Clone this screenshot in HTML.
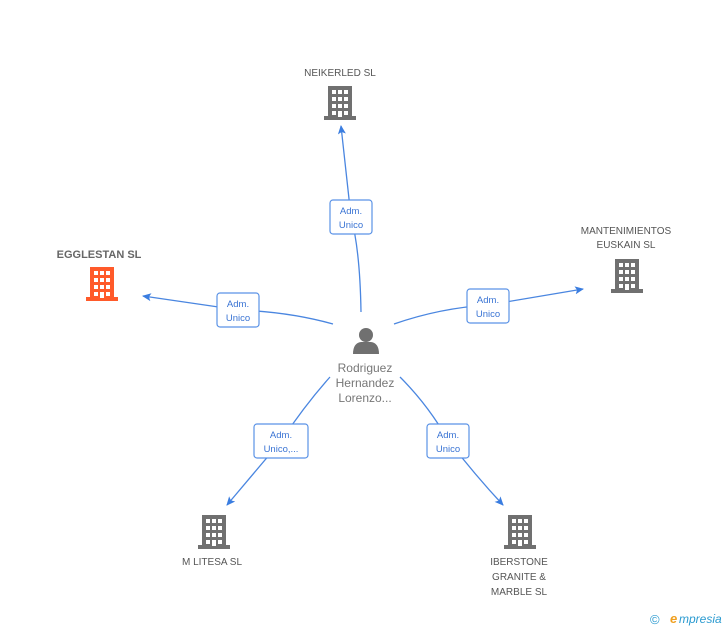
<!DOCTYPE html>
<html><head><meta charset="utf-8"><style>
body{margin:0;background:#fff;width:728px;height:630px;overflow:hidden;font-family:"Liberation Sans",sans-serif}
svg{position:absolute;left:0;top:0}
</style></head><body>
<svg width="728" height="630" xmlns="http://www.w3.org/2000/svg" font-family="Liberation Sans, sans-serif">
<defs>
<symbol id="b" viewBox="0 0 32 34">
<rect x="4" y="0" width="24" height="31" fill="currentColor"/>
<rect x="0" y="30" width="32" height="4" fill="currentColor"/>
<g fill="#fff">
<rect x="8" y="4" width="4" height="4"/><rect x="14" y="4" width="4" height="4"/><rect x="20" y="4" width="4" height="4"/>
<rect x="8" y="11" width="4" height="4"/><rect x="14" y="11" width="4" height="4"/><rect x="20" y="11" width="4" height="4"/>
<rect x="8" y="18" width="4" height="4"/><rect x="14" y="18" width="4" height="4"/><rect x="20" y="18" width="4" height="4"/>
<rect x="14" y="25" width="4" height="6"/><rect x="8" y="25" width="4" height="4"/><rect x="20" y="25" width="4" height="4"/>
</g></symbol>
<marker id="a" markerWidth="10" markerHeight="10" refX="8" refY="5" orient="auto" markerUnits="userSpaceOnUse"><path d="M0,1 L9,5 L0,9 L2,5 Z" fill="#3a7de0"/></marker>
</defs>
<g stroke="#4a86e0" stroke-width="1.3" fill="none">
<path d="M361,312 Q360,250 351,217 Q346,170 341,126" marker-end="url(#a)"/>
<path d="M333,324 Q290,312 239,310 Q190,303 143,296" marker-end="url(#a)"/>
<path d="M394,324 Q440,308 488,305 Q535,297 583,289" marker-end="url(#a)"/>
<path d="M330,377 Q305,405 281,441 Q255,472 227,505" marker-end="url(#a)"/>
<path d="M400,377 Q428,405 448,440 Q475,475 503,505" marker-end="url(#a)"/>
</g>
<g fill="#fff" stroke="#5a92e6" stroke-width="1.2">
<rect x="330" y="200" width="42" height="34" rx="3"/>
<rect x="217" y="293" width="42" height="34" rx="3"/>
<rect x="467" y="289" width="42" height="34" rx="3"/>
<rect x="254" y="424" width="54" height="34" rx="3"/>
<rect x="427" y="424" width="42" height="34" rx="3"/>
</g>
<g fill="#3a74d4" font-size="9.5" text-anchor="middle">
<text x="351" y="214">Adm.</text><text x="351" y="228">Unico</text>
<text x="238" y="307">Adm.</text><text x="238" y="321">Unico</text>
<text x="488" y="303">Adm.</text><text x="488" y="317">Unico</text>
<text x="281" y="438">Adm.</text><text x="281" y="452">Unico,...</text>
<text x="448" y="438">Adm.</text><text x="448" y="452">Unico</text>
</g>
<use href="#b" x="324" y="86" width="32" height="34" color="#707070"/>
<use href="#b" x="86" y="267" width="32" height="34" color="#ff5a2a"/>
<use href="#b" x="611" y="259" width="32" height="34" color="#707070"/>
<use href="#b" x="198" y="515" width="32" height="34" color="#707070"/>
<use href="#b" x="504" y="515" width="32" height="34" color="#707070"/>
<g fill="#707070">
<circle cx="366" cy="335" r="7"/>
<path d="M353,354 Q353,343 361,342 L371,342 Q379,343 379,354 Z"/>
</g>
<g fill="#555" font-size="10" text-anchor="middle">
<text x="340" y="76">NEIKERLED SL</text>
<text x="626" y="234">MANTENIMIENTOS</text><text x="626" y="248">EUSKAIN SL</text>
<text x="212" y="565">M LITESA SL</text>
<text x="519" y="565">IBERSTONE</text><text x="519" y="580">GRANITE &amp;</text><text x="519" y="595">MARBLE  SL</text>
</g>
<text x="99" y="258" fill="#666" font-size="11" font-weight="bold" text-anchor="middle">EGGLESTAN SL</text>
<g fill="#777" font-size="12" text-anchor="middle">
<text x="365" y="372">Rodriguez</text><text x="365" y="387">Hernandez</text><text x="365" y="402">Lorenzo...</text>
</g>
<text x="650" y="624" fill="#2a9ad0" font-size="13">©</text>
<text x="670" y="623" fill="#f0a020" font-size="13" font-style="italic" font-weight="bold">e</text>
<text x="679" y="623" fill="#2a9ad0" font-size="12" font-style="italic">mpresia</text>
</svg>
</body></html>
